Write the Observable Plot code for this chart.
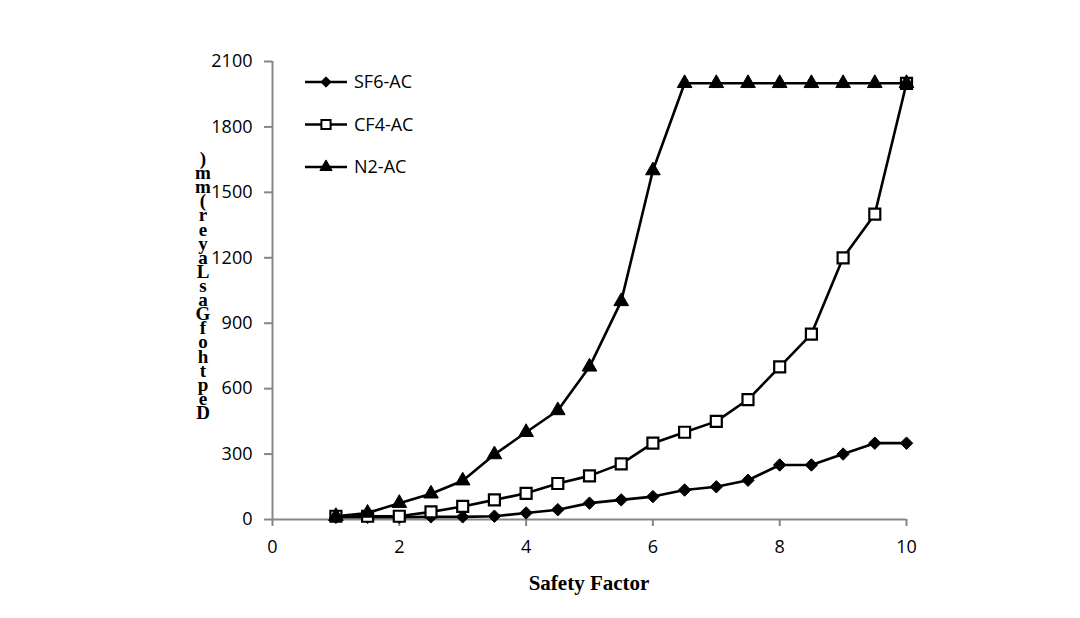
<!DOCTYPE html>
<html>
<head>
<meta charset="utf-8">
<script src="https://cdn.jsdelivr.net/npm/d3@7"></script>
<script src="https://cdn.jsdelivr.net/npm/@observablehq/plot@0.6"></script>
<style>
  html, body { margin: 0; padding: 0; background: #fff; }
  #chart { width: 1080px; height: 618px; }
</style>
</head>
<body>
<div id="chart"></div>
<script>
const safetyFactor = [1, 1.5, 2, 2.5, 3, 3.5, 4, 4.5, 5, 5.5, 6, 6.5, 7, 7.5, 8, 8.5, 9, 9.5, 10];
const sf6 = [10, 10, 10, 12, 12, 15, 30, 45, 75, 90, 105, 135, 150, 180, 250, 250, 300, 350, 350];
const cf4 = [15, 15, 15, 35, 60, 90, 120, 165, 200, 255, 350, 400, 450, 550, 700, 850, 1200, 1400, 2000];
const n2  = [15, 30, 75, 118, 178, 298, 400, 500, 700, 1000, 1600, 2000, 2000, 2000, 2000, 2000, 2000, 2000, 2000];
const seriesNames = ["SF6-AC", "CF4-AC", "N2-AC"];
const xTicks = [0, 2, 4, 6, 8, 10];
const yTicks = [0, 300, 600, 900, 1200, 1500, 1800, 2100];
const xLabel = "Safety Factor";
const yLabel = "Depth of Gas Layer (mm)";

const seriesValues = [sf6, cf4, n2];
const symbols = ["diamond2", "square2", "triangle2"];
const fills = ["black", "white", "black"];
const radii = [5.6, 7, 7];

const rows = seriesNames.flatMap((name, i) =>
  safetyFactor.map((x, j) => ({series: name, x, y: seriesValues[i][j]})));

const W = 1080, H = 618;
const ml = 272, mr = 174, mt = 61, mb = 99;
const gray = "#878787";
const tickFont = "'Open Sans', 'Liberation Sans', sans-serif";

const marks = [
  Plot.ruleY([0], {stroke: gray, strokeWidth: 2}),
  Plot.ruleX([0], {stroke: gray, strokeWidth: 2}),
  Plot.axisX({ticks: xTicks, tickFormat: d => String(d), tickSize: 7, tickPadding: 14, stroke: gray, strokeWidth: 2, label: null, fill: "black"}),
  Plot.axisY({ticks: yTicks, tickFormat: d => String(d), tickSize: 8, tickPadding: 12, stroke: gray, strokeWidth: 2, label: null, fill: "black"})
];
seriesNames.forEach((name, i) => {
  const d = rows.filter(r => r.series === name);
  marks.push(Plot.line(d, {x: "x", y: "y", stroke: "black", strokeWidth: 2.6}));
  marks.push(Plot.dot(d, {x: "x", y: "y", symbol: () => symbols[i], r: radii[i],
    fill: fills[i], stroke: "black", strokeWidth: i === 1 ? 2.2 : 1}));
});

const chart = Plot.plot({
  width: W, height: H,
  marginLeft: ml, marginRight: mr, marginTop: mt, marginBottom: mb,
  style: {fontFamily: tickFont, fontSize: "18px", background: "white", color: "black"},
  x: {domain: [0, 10]},
  y: {domain: [0, 2100]},
  marks
});
document.getElementById("chart").appendChild(chart);

const svg = d3.select(chart);

// Legend
const legend = svg.append("g").attr("class", "legend").attr("text-anchor", "start");
const symTypes = [d3.symbolDiamond2, d3.symbolSquare2, d3.symbolTriangle2];
seriesNames.forEach((name, i) => {
  const gy = 82 + i * 42.5;
  const g = legend.append("g").attr("transform", `translate(305,${gy})`);
  g.append("line").attr("x1", 0).attr("x2", 42).attr("y1", 0).attr("y2", 0)
    .attr("stroke", "black").attr("stroke-width", 2.6);
  const size = Math.PI * radii[i] * radii[i] * 0.7;
  g.append("path").attr("transform", "translate(21,0)")
    .attr("d", d3.symbol(symTypes[i], size)())
    .attr("fill", fills[i]).attr("stroke", "black").attr("stroke-width", i === 1 ? 2 : 1);
  g.append("text").attr("x", 49).attr("y", 0).attr("dy", "0.35em")
    .attr("text-anchor", "start")
    .attr("font-family", tickFont).attr("font-size", 18).text(name);
});

// X axis title
svg.append("text").attr("x", 589).attr("y", 590)
  .attr("text-anchor", "middle")
  .attr("font-family", "'Liberation Serif', 'DejaVu Serif', serif")
  .attr("font-weight", "bold").attr("font-size", 21).text(xLabel);

// Y axis title: characters stacked bottom-to-top (upright), as in the reference
const chars = Array.from(yLabel).filter(c => c !== " ").reverse();
const yt = svg.append("text")
  .attr("font-family", "'Liberation Serif', 'DejaVu Serif', serif")
  .attr("font-weight", "bold").attr("font-size", 19)
  .attr("text-anchor", "middle");
const labelTop = 165, labelBottom = 419;
chars.forEach((c, k) => {
  yt.append("tspan").attr("x", 203)
    .attr("y", labelTop + k * (labelBottom - labelTop) / (chars.length - 1))
    .text(c);
});
</script>
</body>
</html>
